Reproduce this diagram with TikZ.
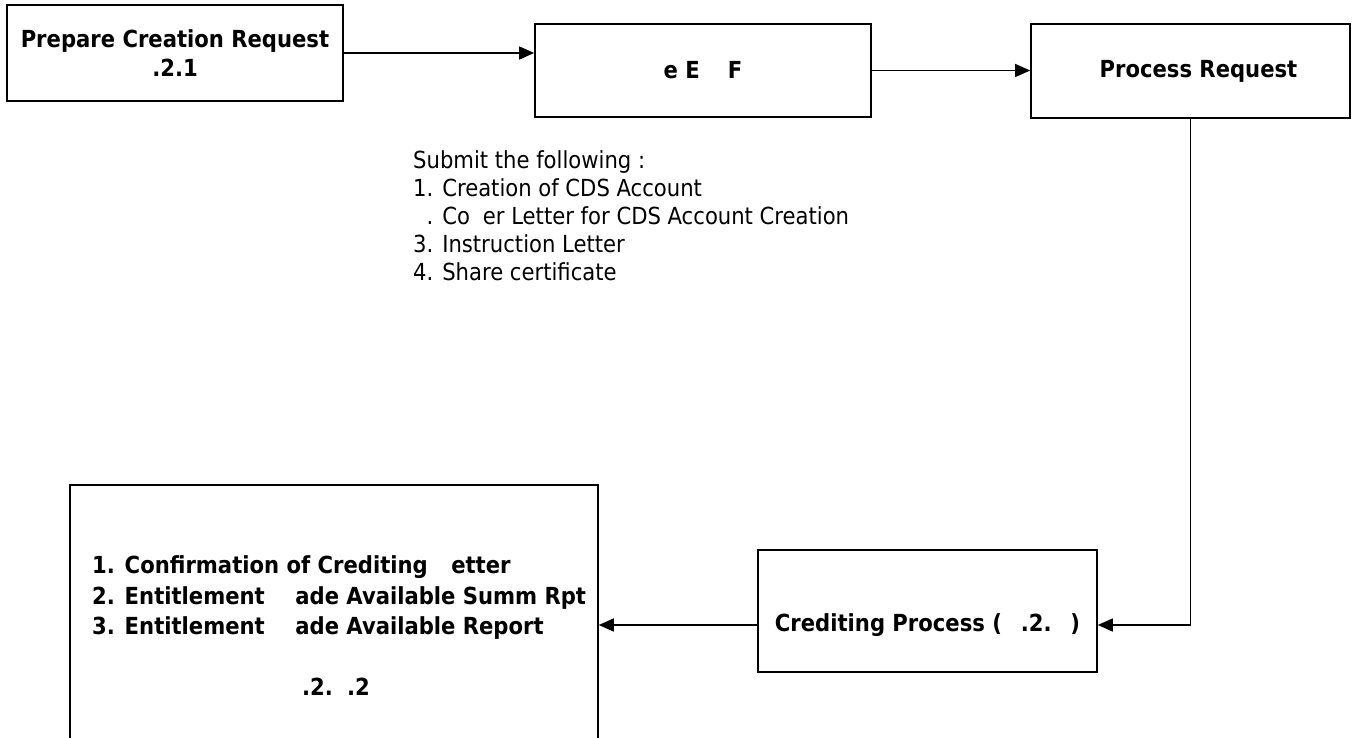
\documentclass[tikz,border=0pt]{standalone}
\usepackage{fontspec}
\setmainfont{DejaVu Sans Condensed}
\usetikzlibrary{arrows.meta}

\begin{document}
\begin{tikzpicture}[x=1pt,y=-1pt,
  box/.style={draw, line width=1.6pt, inner sep=0pt},
  conn/.style={line width=1.3pt, -{Triangle[length=15pt,width=13pt]}},
  lbl/.style={font=\fontsize{23.5}{28.5}\selectfont\bfseries, align=center, inner sep=0pt},
  lst/.style={font=\fontsize{23.5}{28}\selectfont, align=left, inner sep=0pt, anchor=north west},
  blst/.style={lst, font=\fontsize{23.5}{30.5}\selectfont\bfseries}]
\useasboundingbox (0,0) rectangle (1352,738);

% process boxes
\node[box, minimum width=336pt, minimum height=96pt, lbl] (prep) at (175,53)
  {Prepare Creation Request\\.2.1};
\node[box, minimum width=336pt, minimum height=93pt, lbl] (req) at (703,70.5)
  {e E\hspace{1.2em}F};
\node[box, minimum width=319pt, minimum height=94pt, lbl] (proc) at (1190.5,71)
  {\hspace*{16pt}Process Request};
\node[box, minimum width=339pt, minimum height=122pt] (cred) at (927.5,611) {};
\node[lbl] (credtxt) at (927.5,625) {Crediting Process (\hspace{0.8em}.2.\hspace{0.8em})};
\node[box, minimum width=528pt, minimum height=280pt] (out) at (334,625) {};

% texts
\node[lst] (submit) at (413,150.5)
  {Submit the following :\\
   1. Creation of CDS Account\\
   \phantom{2}. Co\hspace{0.55em}er Letter for CDS Account Creation\\
   3. Instruction Letter\\
   4. Share certificate};
\node[blst] (reports) at (92,555.5)
  {1. Confirmation of Crediting\hspace{1em}etter\\
   2. Entitlement\hspace{1.3em}ade Available Summ Rpt\\
   3. Entitlement\hspace{1.3em}ade Available Report};
\node[lbl] (outref) at (336,687) {.2.\hspace{0.6em}.2};

% connectors
\draw[conn] (prep.east) -- (prep.east -| req.west);
\draw[conn] (req.east) -- (req.east -| proc.west);
\draw[conn] (proc.south) |- ([yshift=-14pt]cred.east);
\draw[conn] ([yshift=-14pt]cred.west) -- ([yshift=-14pt]cred.west -| out.east);
\end{tikzpicture}
\end{document}
